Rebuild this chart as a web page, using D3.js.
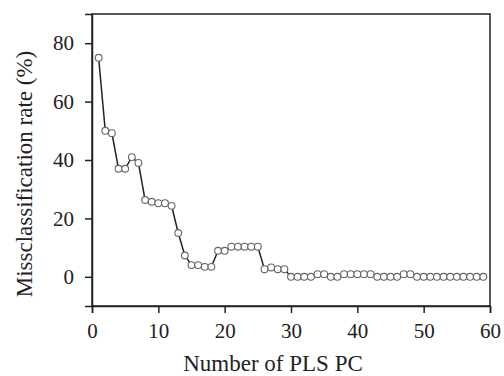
<!DOCTYPE html>
<html>
<head>
<meta charset="utf-8">
<script src="https://cdn.jsdelivr.net/npm/d3@7"></script>
<style>
  body { margin: 0; background: #fff; }
</style>
</head>
<body>
<div id="chart"></div>
<script>
// number of PLS components and misclassification rate (%)
const pcs = d3.range(1, 60);
const rates = [75, 50, 49.2, 37, 37, 41, 39, 26.3, 25.7, 25.2, 25.2, 24.3, 15, 7.3, 4, 4, 3.4, 3.4, 8.9, 8.9,
  10.3, 10.3, 10.3, 10.3, 10.3, 2.6, 3.2, 2.6, 2.6, 0, 0, 0, 0, 0.9, 0.9, 0, 0, 0.9, 0.9, 0.9,
  0.9, 0.9, 0, 0, 0, 0, 0.9, 0.9, 0, 0, 0, 0, 0, 0, 0, 0, 0, 0, 0];
const xTicks = [0, 10, 20, 30, 40, 50, 60];
const yTicks = [0, 20, 40, 60, 80];

const width = 504, height = 376;
const margin = {top: 14, right: 14, bottom: 70, left: 92};
const serif = "'Liberation Serif', 'Times New Roman', Times, serif";

const svg = d3.select("#chart").append("svg")
    .attr("width", width)
    .attr("height", height)
    .attr("font-family", serif);

const x = d3.scaleLinear().domain([0, 60]).range([margin.left, width - margin.right]);
const y = d3.scaleLinear().domain([-10, 90]).range([height - margin.bottom, margin.top]);

// frame
svg.append("rect")
    .attr("x", x(0)).attr("y", y(90))
    .attr("width", x(60) - x(0)).attr("height", y(-10) - y(90))
    .attr("fill", "none").attr("stroke", "#222").attr("stroke-width", 1.5);

const xAxis = svg.append("g")
    .attr("transform", `translate(0,${y(-10)})`)
    .call(d3.axisBottom(x).tickValues(xTicks).tickSize(7).tickPadding(10));
const yAxis = svg.append("g")
    .attr("transform", `translate(${x(0)},0)`)
    .call(d3.axisLeft(y).tickValues(yTicks).tickSize(7).tickPadding(11));

[xAxis, yAxis].forEach(g => {
  g.attr("font-family", serif).attr("font-size", 21);
  g.select(".domain").attr("stroke", "#222").attr("stroke-width", 1.5);
  g.selectAll(".tick line").attr("stroke", "#222").attr("stroke-width", 1.5);
  g.selectAll(".tick text").attr("fill", "#222");
});

const pts = pcs.map((p, i) => ({p: p, r: rates[i]}));

svg.append("path")
    .datum(pts)
    .attr("fill", "none")
    .attr("stroke", "#222")
    .attr("stroke-width", 1.5)
    .attr("d", d3.line().x(d => x(d.p)).y(d => y(d.r)));

svg.selectAll(".pt")
    .data(pts)
    .enter().append("circle")
    .attr("class", "pt")
    .attr("cx", d => x(d.p))
    .attr("cy", d => y(d.r))
    .attr("r", 3.4)
    .attr("fill", "#fff")
    .attr("stroke", "#666")
    .attr("stroke-width", 1.1);

// axis titles
svg.append("text")
    .attr("x", 273)
    .attr("y", 371)
    .attr("text-anchor", "middle")
    .attr("font-size", 23)
    .attr("fill", "#222")
    .text("Number of PLS PC");

svg.append("text")
    .attr("transform", `translate(32,174) rotate(-90)`)
    .attr("text-anchor", "middle")
    .attr("font-size", 23)
    .attr("fill", "#222")
    .text("Missclassification rate (%)");
</script>
</body>
</html>
